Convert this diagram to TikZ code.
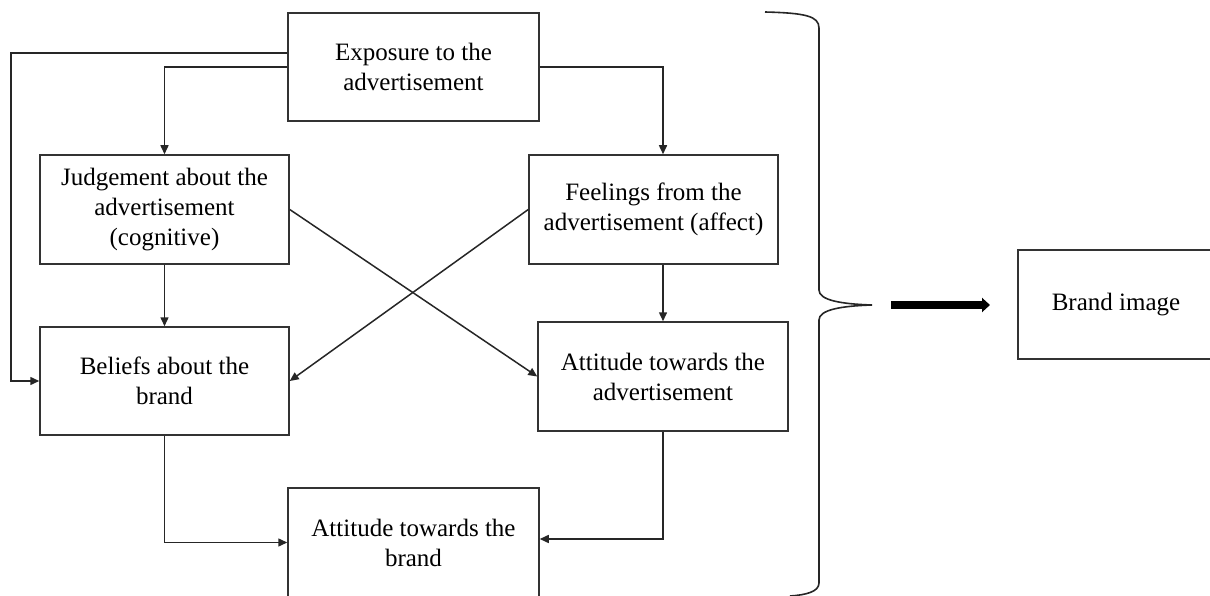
\documentclass[tikz,border=0pt]{standalone}
\usepackage{fontspec}
\setmainfont{Liberation Serif}
\usetikzlibrary{arrows.meta}
\begin{document}
\begin{tikzpicture}[x=1pt,y=-1pt,
  boxnode/.style={draw=black!80, line width=1.5pt, inner sep=0pt, align=center,
    font=\fontsize{25}{30}\selectfont},
  arr/.style={draw=black!85, line width=1.5pt, -{Triangle[length=9pt,width=8pt]}},
  bracestyle/.style={draw=black!85, line width=1.6pt},
  bigarr/.style={draw=black, line width=7.5pt, -{Triangle[length=8pt,width=14pt]}}
]
\useasboundingbox (0,0) rectangle (1210,596);
\clip (0,0) rectangle (1210,596);

\node[boxnode, minimum width=251pt, minimum height=108pt] (expo) at (413.5,67) {Exposure to the\\advertisement};
\node[boxnode, minimum width=249pt, minimum height=109pt] (judg) at (164.5,209.5) {Judgement about the\\advertisement\\(cognitive)};
\node[boxnode, minimum width=249pt, minimum height=109pt] (feel) at (653.5,209.5) {Feelings from the\\advertisement (affect)};
\node[boxnode, minimum width=249pt, minimum height=108pt] (beli) at (164.5,381) {Beliefs about the\\brand};
\node[boxnode, minimum width=250pt, minimum height=109pt] (attad) at (663,376.5) {Attitude towards the\\advertisement};
\node[boxnode, minimum width=251pt, minimum height=109pt] (attbr) at (413.5,542.5) {Attitude towards the\\brand};
\node[boxnode, minimum width=196pt, minimum height=109pt] (brand) at (1116,304.5) {Brand image};

\coordinate (lft) at (11,53);
\coordinate (tip) at (872,305);
\coordinate (bas) at (891,305);
\coordinate (bend) at (990,305);

% connectors
\draw[arr] (expo.west |- lft) -- (lft) |- (beli.west);
\draw[arr] (expo.west) -| (judg.north);
\draw[arr] (expo.east) -| (attad.north |- feel.north);
\draw[arr] (judg.south) -- (beli.north);
\draw[arr] (attad.north |- feel.south) -- (attad.north);
\draw[arr] (judg.east) -- (attad.west);
\draw[arr] (feel.west) -- (beli.east);
\draw[arr] (beli.south) |- (attbr.west);
\draw[arr] (attad.south) |- ([yshift=3.5pt]attbr.east);

% brace
\draw[bracestyle] (765,12) .. controls (805,13) and (819,16) .. (819,28)
  -- (819,290) .. controls (819,300) and (840,304) .. (tip)
  .. controls (840,306) and (819,310) .. (819,320)
  -- (819,583) .. controls (819,592) and (805,595) .. (790,596);

% big arrow
\draw[bigarr] (bas) -- (bend);
\end{tikzpicture}
\end{document}
